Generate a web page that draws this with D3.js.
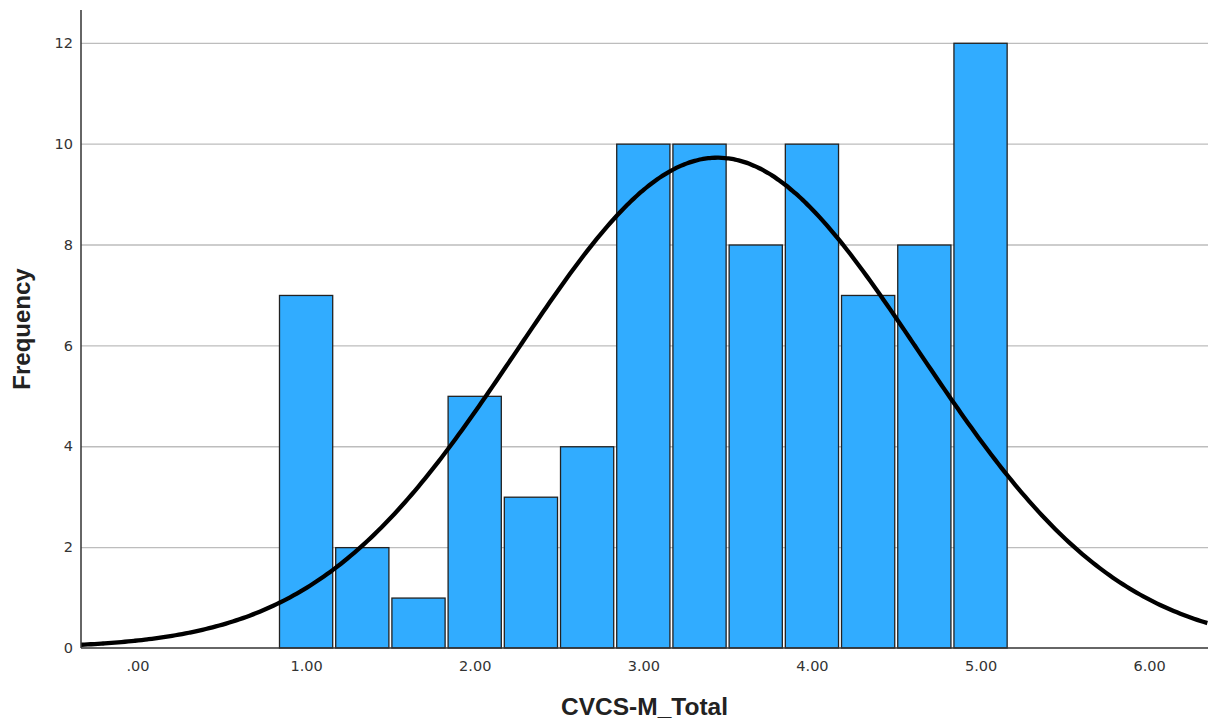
<!DOCTYPE html>
<html>
<head>
<meta charset="utf-8">
<script src="https://cdn.jsdelivr.net/npm/d3@7"></script>
<style>
  body { margin: 0; background: #fff; }
  .tick text { fill: #333; }
</style>
</head>
<body>
<div id="main"></div>
<script>
/// data ///
// histogram bins (lower edge, width 1/3) and their frequencies
const binStart = 5 / 6;
const binWidth = 1 / 3;
const counts = [7, 2, 1, 5, 3, 4, 10, 10, 8, 10, 7, 8, 12];

// fitted normal curve
const mean = 3.44;
const sd = 1.19;
const n = 87;

const xTicks = [0, 1, 2, 3, 4, 5, 6];
const yTicks = [0, 2, 4, 6, 8, 10, 12];

const xTitle = 'CVCS-M_Total';
const yTitle = 'Frequency';

/// chart ///
const w = 1214;
const h = 726;
const padL = 81, padR = 1208, padT = 10, padB = 648;

let svg = d3.select('#main')
    .append('svg')
    .attr('width', w)
    .attr('height', h);

let xScale = d3.scaleLinear()
    .domain([-0.335, 6.349])
    .range([padL, padR]);

let yScale = d3.scaleLinear()
    .domain([0, 12.65])
    .range([padB, padT]);

// gridlines
svg.append('g')
    .selectAll('line')
    .data(yTicks.filter(d => d > 0))
    .enter()
    .append('line')
    .attr('x1', padL)
    .attr('x2', padR)
    .attr('y1', d => yScale(d) + 0.5)
    .attr('y2', d => yScale(d) + 0.5)
    .attr('stroke', '#bdbdbd')
    .attr('stroke-width', 1.3);

// bars
let bins = counts.map((c, i) => {
    let x0 = binStart + i * binWidth;
    return { x0: x0, x1: x0 + binWidth, count: c };
});

svg.append('g')
    .selectAll('rect')
    .data(bins)
    .enter()
    .append('rect')
    .attr('x', d => xScale(d.x0) + 1.5)
    .attr('y', d => yScale(d.count) + 0.5)
    .attr('width', d => xScale(d.x1) - xScale(d.x0) - 3)
    .attr('height', d => yScale(0) - yScale(d.count) - 0.5)
    .attr('fill', '#31acff')
    .attr('stroke', '#222')
    .attr('stroke-width', 1.3);

// normal curve
let curvePts = d3.range(xScale.domain()[0], xScale.domain()[1] + 0.001, 0.02).map(x => {
    let z = (x - mean) / sd;
    return [x, n * binWidth / (sd * Math.sqrt(2 * Math.PI)) * Math.exp(-0.5 * z * z)];
});

svg.append('path')
    .datum(curvePts)
    .attr('fill', 'none')
    .attr('stroke', '#000')
    .attr('stroke-width', 4.3)
    .attr('d', d3.line()
        .x(d => xScale(d[0]))
        .y(d => yScale(d[1]))
        .curve(d3.curveBasis));

// axes
let xAxis = d3.axisBottom(xScale)
    .tickValues(xTicks)
    .tickSize(0)
    .tickPadding(13)
    .tickFormat(d => d3.format('.2f')(d).replace(/^0/, ''));

let gx = svg.append('g')
    .attr('transform', 'translate(0,' + padB + ')')
    .call(xAxis);

let yAxis = d3.axisLeft(yScale)
    .tickValues(yTicks)
    .tickSize(0)
    .tickPadding(8)
    .tickFormat(d3.format('d'));

let gy = svg.append('g')
    .attr('transform', 'translate(' + padL + ',0)')
    .call(yAxis);

[gx, gy].forEach(g => {
    g.select('.domain').remove();
    g.selectAll('text')
        .style('font-family', '"DejaVu Sans", sans-serif')
        .style('font-size', '14.5px');
});

svg.append('line')          // y axis line
    .attr('x1', padL).attr('x2', padL)
    .attr('y1', padT).attr('y2', padB)
    .attr('stroke', '#333').attr('stroke-width', 1.5);

svg.append('line')          // x axis line
    .attr('x1', padL).attr('x2', padR)
    .attr('y1', padB).attr('y2', padB)
    .attr('stroke', '#333').attr('stroke-width', 1.5);

svg.append('text')
    .attr('x', (padL + padR) / 2)
    .attr('y', 715)
    .style('text-anchor', 'middle')
    .style('font-family', '"Liberation Sans", Arial, sans-serif')
    .style('font-weight', 'bold')
    .style('font-size', '24.5px')
    .style('fill', '#222')
    .text(xTitle);

svg.append('text')
    .attr('transform', 'translate(30,' + ((padT + padB) / 2) + ') rotate(-90)')
    .style('text-anchor', 'middle')
    .style('font-family', '"Liberation Sans", Arial, sans-serif')
    .style('font-weight', 'bold')
    .style('font-size', '24px')
    .style('fill', '#222')
    .text(yTitle);
</script>
</body>
</html>
